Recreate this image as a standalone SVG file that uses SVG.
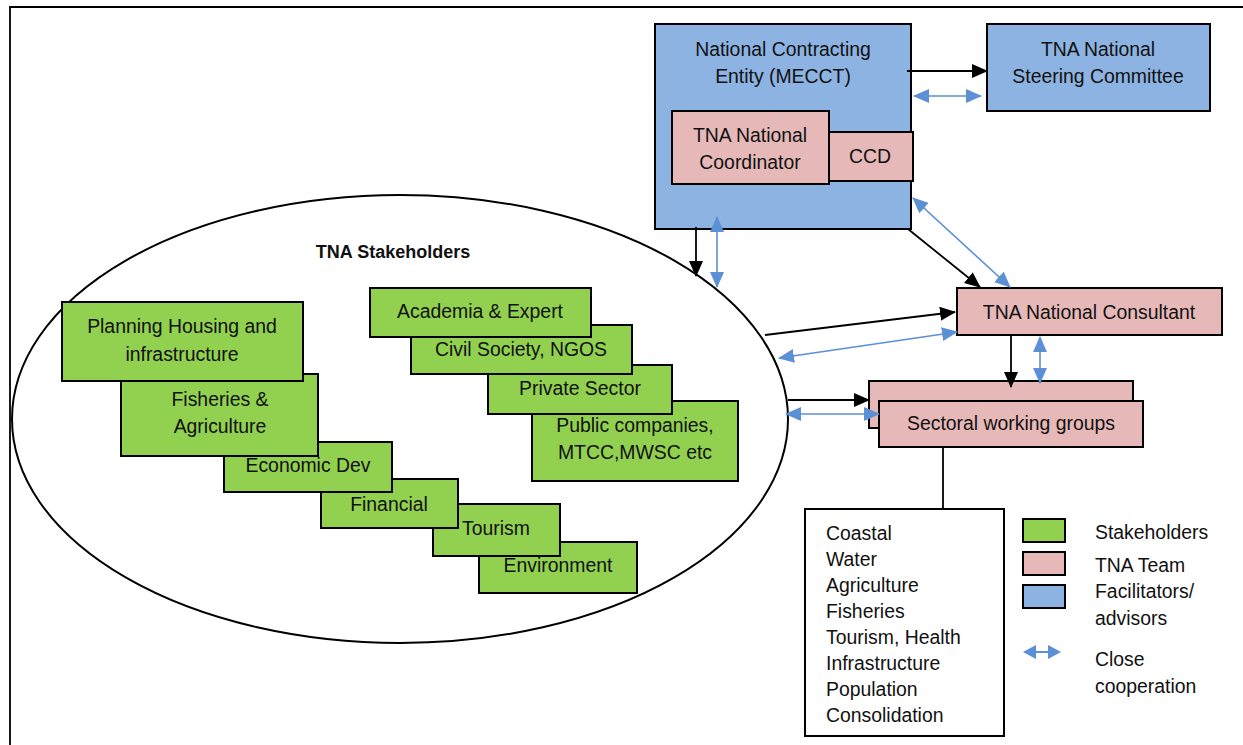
<svg xmlns="http://www.w3.org/2000/svg" width="1243" height="745" viewBox="0 0 1243 745">
<style>
text{font-family:"Liberation Sans",Arial,sans-serif;font-size:19.4px;fill:#111;}
.c{text-anchor:middle;}
.b{font-weight:bold;font-size:18px;}
.blue{fill:#8DB3E2;stroke:#000;stroke-width:2;}
.pink{fill:#E6B9B8;stroke:#000;stroke-width:2;}
.green{fill:#92D050;stroke:#000;stroke-width:2;}
.blk{stroke:#000;stroke-width:1.8;fill:none;}
.bl{stroke:#5B8FD6;stroke-width:1.6;fill:none;}
</style>
<defs>
<marker id="ah" markerUnits="userSpaceOnUse" markerWidth="16" markerHeight="16" viewBox="0 0 16 16" refX="15" refY="8" orient="auto"><path d="M0,1 L16,8 L0,15 Z" fill="#000"/></marker>
<marker id="bh" markerUnits="userSpaceOnUse" markerWidth="16" markerHeight="16" viewBox="0 0 16 16" refX="15" refY="8" orient="auto-start-reverse"><path d="M0,1 L16,8 L0,15 Z" fill="#5B8FD6"/></marker>
</defs>
<rect width="1243" height="745" fill="#fff"/>
<g id="frame"><path d="M10,745 V7 H1243" class="blk" stroke-width="2.2"/></g>
<g id="stakeholders">
<ellipse cx="400" cy="419" rx="388" ry="224" fill="none" stroke="#000" stroke-width="2"/>
<text x="393" y="258" class="c b">TNA Stakeholders</text>
</g>
<g id="environment"><rect x="479" y="542" width="158" height="51" class="green"/><text x="558" y="572" class="c">Environment</text></g>
<g id="tourism"><rect x="433" y="504" width="127" height="52" class="green"/><text x="496" y="535" class="c">Tourism</text></g>
<g id="financial"><rect x="321" y="479" width="137" height="49" class="green"/><text x="389" y="511" class="c">Financial</text></g>
<g id="economic"><rect x="224" y="442" width="168" height="50" class="green"/><text x="308" y="472" class="c">Economic Dev</text></g>
<g id="fisheries"><rect x="121" y="374" width="197" height="82" class="green"/><text x="220" y="406" class="c">Fisheries &amp;</text><text x="220" y="433" class="c">Agriculture</text></g>
<g id="planning"><rect x="62" y="302" width="241" height="79" class="green"/><text x="182" y="333" class="c">Planning Housing and</text><text x="182" y="361" class="c">infrastructure</text></g>
<g id="public"><rect x="532" y="401" width="206" height="80" class="green"/><text x="635" y="432" class="c">Public companies,</text><text x="635" y="459" class="c">MTCC,MWSC etc</text></g>
<g id="private"><rect x="488" y="365" width="184" height="49" class="green"/><text x="580" y="395" class="c">Private Sector</text></g>
<g id="civil"><rect x="411" y="325" width="221" height="49" class="green"/><text x="521" y="356" class="c">Civil Society, NGOS</text></g>
<g id="academia"><rect x="370" y="288" width="221" height="49" class="green"/><text x="480" y="318" class="c">Academia &amp; Expert</text></g>
<g id="nce"><rect x="655" y="24" width="256" height="205" class="blue"/><text x="783" y="56" class="c">National Contracting</text><text x="783" y="83" class="c">Entity (MECCT)</text></g>
<g id="ccd"><rect x="829" y="132" width="84" height="49" class="pink"/><text x="870" y="163" class="c">CCD</text></g>
<g id="coordinator"><rect x="672" y="111" width="157" height="73" class="pink"/><text x="750" y="142" class="c">TNA National</text><text x="750" y="169" class="c">Coordinator</text></g>
<g id="steering"><rect x="987" y="24" width="223" height="87" class="blue"/><text x="1098" y="56" class="c">TNA National</text><text x="1098" y="83" class="c">Steering Committee</text></g>
<g id="consultant"><rect x="957" y="288" width="265" height="47" class="pink"/><text x="1089" y="319" class="c">TNA National Consultant</text></g>
<g id="sectoral"><rect x="869" y="381" width="264" height="47" class="pink"/><rect x="879" y="401" width="264" height="46" class="pink"/><text x="1011" y="430" class="c">Sectoral working groups</text></g>
<g id="sectors"><rect x="805" y="509" width="199" height="227" fill="#fff" stroke="#000" stroke-width="2"/>
<text x="826" y="540">Coastal</text><text x="826" y="566">Water</text><text x="826" y="592">Agriculture</text><text x="826" y="618">Fisheries</text><text x="826" y="644">Tourism, Health</text><text x="826" y="670">Infrastructure</text><text x="826" y="696">Population</text><text x="826" y="722">Consolidation</text></g>
<g id="connectors">
<line x1="907" y1="71" x2="987" y2="71" class="blk" marker-end="url(#ah)"/>
<line x1="914" y1="96" x2="981" y2="96" class="bl" marker-start="url(#bh)" marker-end="url(#bh)"/>
<line x1="908" y1="229" x2="980" y2="287" class="blk" marker-end="url(#ah)"/>
<line x1="913" y1="198" x2="1010" y2="287" class="bl" marker-start="url(#bh)" marker-end="url(#bh)"/>
<line x1="696" y1="227" x2="696" y2="276" class="blk" marker-end="url(#ah)"/>
<line x1="717" y1="217" x2="717" y2="287" class="bl" marker-start="url(#bh)" marker-end="url(#bh)"/>
<line x1="765" y1="335" x2="955" y2="312" class="blk" marker-end="url(#ah)"/>
<line x1="779" y1="358" x2="957" y2="332" class="bl" marker-start="url(#bh)" marker-end="url(#bh)"/>
<line x1="1011" y1="335" x2="1011" y2="387" class="blk" marker-end="url(#ah)"/>
<line x1="1040" y1="337" x2="1040" y2="383" class="bl" marker-start="url(#bh)" marker-end="url(#bh)"/>
<line x1="788" y1="400" x2="869" y2="400" class="blk" marker-end="url(#ah)"/>
<line x1="786" y1="414" x2="879" y2="414" class="bl" marker-start="url(#bh)" marker-end="url(#bh)"/>
<line x1="943" y1="447" x2="943" y2="510" class="blk"/>
</g>
<g id="legend">
<rect x="1023" y="519" width="42" height="23" class="green"/>
<rect x="1023" y="552" width="42" height="23" class="pink"/>
<rect x="1023" y="585" width="42" height="23" class="blue"/>
<path d="M1023,652 L1036,645 L1036,659 Z M1061,652 L1048,645 L1048,659 Z" fill="#5B8FD6"/>
<line x1="1036" y1="652" x2="1048" y2="652" stroke="#5B8FD6" stroke-width="2"/>
<text x="1095" y="539">Stakeholders</text>
<text x="1095" y="572">TNA Team</text>
<text x="1095" y="598">Facilitators/</text>
<text x="1095" y="625">advisors</text>
<text x="1095" y="666">Close</text>
<text x="1095" y="693">cooperation</text>
</g>
</svg>
